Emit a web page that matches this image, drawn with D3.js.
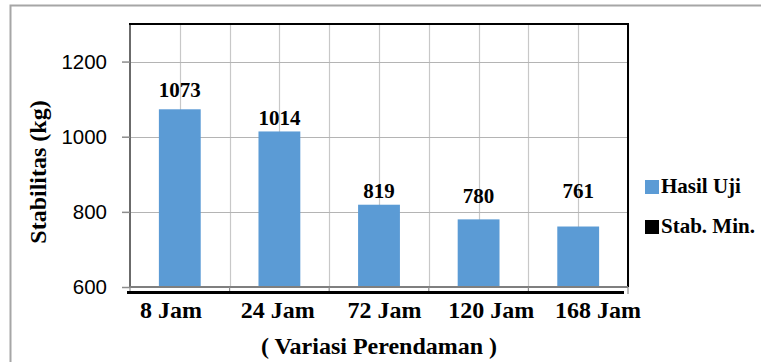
<!DOCTYPE html>
<html>
<head>
<meta charset="utf-8">
<script src="https://cdn.jsdelivr.net/npm/d3@7"></script>
<style>
  html, body { margin: 0; padding: 0; background: #fff; }
  svg { display: block; }
</style>
</head>
<body>
<svg id="chart" width="761" height="362"></svg>
<script>
// Data
const categories = ["8 Jam", "24 Jam", "72 Jam", "120 Jam", "168 Jam"];
const hasilUji = [1073, 1014, 819, 780, 761];
const yTicks = [600, 800, 1000, 1200];
const legendItems = ["Hasil Uji", "Stab. Min."];

// Layout
const W = 761, H = 362;
const plot = { left: 130, right: 628, top: 24, bottom: 287 };
const labelLift = [12, 6, 7, 16, 29]; // gap between bar top and value label baseline
const blue = "#5b9bd5";
const SERIF = '"Liberation Serif"';
const SANS = '"Liberation Sans"';

// bold serif text helper
function serifText(sel, size) {
  return sel.style("font-family", SERIF).style("font-weight", "bold")
    .style("font-size", size + "px").attr("fill", "#000");
}

const svg = d3.select("#chart");

// outer chart border (runs off the right and bottom edges)
svg.append("rect")
  .attr("x", 10.5).attr("y", 5.5)
  .attr("width", W + 20).attr("height", H + 20)
  .attr("fill", "#fff").attr("stroke", "#a6a6a6").attr("stroke-width", 2);

const x = d3.scaleBand().domain(categories).range([plot.left, plot.right]).paddingInner(0).paddingOuter(0);
const y = d3.scaleLinear().domain([600, 1300]).range([plot.bottom, plot.top]);
const barW = x.bandwidth() * 0.42;

// gridlines
const g = svg.append("g");
const vLines = [];
categories.forEach(c => { vLines.push(x(c)); vLines.push(x(c) + x.bandwidth() / 2); });
vLines.push(plot.right);
g.selectAll("line.v").data(vLines.slice(1)).join("line")
  .attr("x1", d => Math.round(d) + 0.5).attr("x2", d => Math.round(d) + 0.5)
  .attr("y1", plot.top).attr("y2", plot.bottom)
  .attr("stroke", "#c8c8c8").attr("stroke-width", 1.2);
g.selectAll("line.h").data(yTicks.slice(1)).join("line")
  .attr("x1", plot.left).attr("x2", plot.right)
  .attr("y1", d => Math.round(y(d)) + 0.5).attr("y2", d => Math.round(y(d)) + 0.5)
  .attr("stroke", "#b4b4b4").attr("stroke-width", 1.2);

// bars
svg.append("g").selectAll("rect").data(hasilUji).join("rect")
  .attr("x", (d, i) => x(categories[i]) + (x.bandwidth() - barW) / 2)
  .attr("y", d => y(d))
  .attr("width", barW)
  .attr("height", d => y(600) - y(d))
  .attr("fill", blue);

// value labels
serifText(svg.append("g").selectAll("text").data(hasilUji).join("text"), 21)
  .attr("x", (d, i) => x(categories[i]) + x.bandwidth() / 2)
  .attr("y", (d, i) => y(d) - labelLift[i])
  .attr("text-anchor", "middle")
  .text(d => d);

// plot frame
svg.append("line").attr("x1", plot.left).attr("x2", plot.left)
  .attr("y1", plot.top).attr("y2", plot.bottom)
  .attr("stroke", "#6b6b6b").attr("stroke-width", 2);
svg.append("line").attr("x1", plot.left - 1).attr("x2", plot.right + 1)
  .attr("y1", plot.top).attr("y2", plot.top)
  .attr("stroke", "#000").attr("stroke-width", 2);
svg.append("line").attr("x1", plot.right).attr("x2", plot.right)
  .attr("y1", plot.top).attr("y2", plot.bottom)
  .attr("stroke", "#000").attr("stroke-width", 2);

// y axis
const yAxis = svg.append("g")
  .attr("transform", `translate(${plot.left},0)`)
  .call(d3.axisLeft(y).tickValues(yTicks).tickSize(8).tickPadding(15).tickFormat(d3.format("d")));
yAxis.select(".domain").remove();
yAxis.selectAll(".tick line").attr("stroke", "#8c8c8c").attr("stroke-width", 1.5);
yAxis.selectAll(".tick text")
  .style("font-family", SANS).style("font-size", "20.5px").attr("fill", "#000");

// x axis line with boundary ticks
const xAxis = svg.append("g").attr("transform", `translate(0,${plot.bottom})`);
xAxis.append("line").attr("x1", plot.left).attr("x2", plot.right)
  .attr("y1", 0).attr("y2", 0).attr("stroke", "#7f7f7f").attr("stroke-width", 2);
const bounds = categories.map(c => x(c)).concat([plot.right]);
xAxis.selectAll("line.tk").data(bounds).join("line")
  .attr("x1", d => d).attr("x2", d => d).attr("y1", 0).attr("y2", 7)
  .attr("stroke", "#8c8c8c").attr("stroke-width", 1.2);

// Stab. Min. baseline series
svg.append("line")
  .attr("x1", plot.left - 3).attr("x2", plot.right - 4)
  .attr("y1", plot.bottom + 5.5).attr("y2", plot.bottom + 5.5)
  .attr("stroke", "#000").attr("stroke-width", 3);

// category labels
const xLab = d3.scalePoint().domain(categories).range([plot.left + 41, plot.right - 30]);
serifText(svg.append("g").selectAll("text").data(categories).join("text"), 24)
  .attr("x", d => xLab(d))
  .attr("y", 318)
  .attr("text-anchor", "middle")
  .text(d => d);

// axis titles
serifText(svg.append("text"), 24)
  .attr("x", 379).attr("y", 354)
  .attr("text-anchor", "middle")
  .text("( Variasi Perendaman )");
serifText(svg.append("text"), 24)
  .attr("transform", "translate(46,172) rotate(-90)")
  .attr("text-anchor", "middle")
  .text("Stabilitas (kg)");

// legend
const legend = svg.append("g");
const legendColors = [blue, "#000"];
legendItems.forEach((name, i) => {
  const yy = 193 + i * 40;
  legend.append("rect")
    .attr("x", 645).attr("y", yy - 13).attr("width", 14).attr("height", 14)
    .attr("fill", legendColors[i]);
  serifText(legend.append("text"), 21)
    .attr("x", 661).attr("y", yy)
    .text(name);
});
</script>
</body>
</html>
